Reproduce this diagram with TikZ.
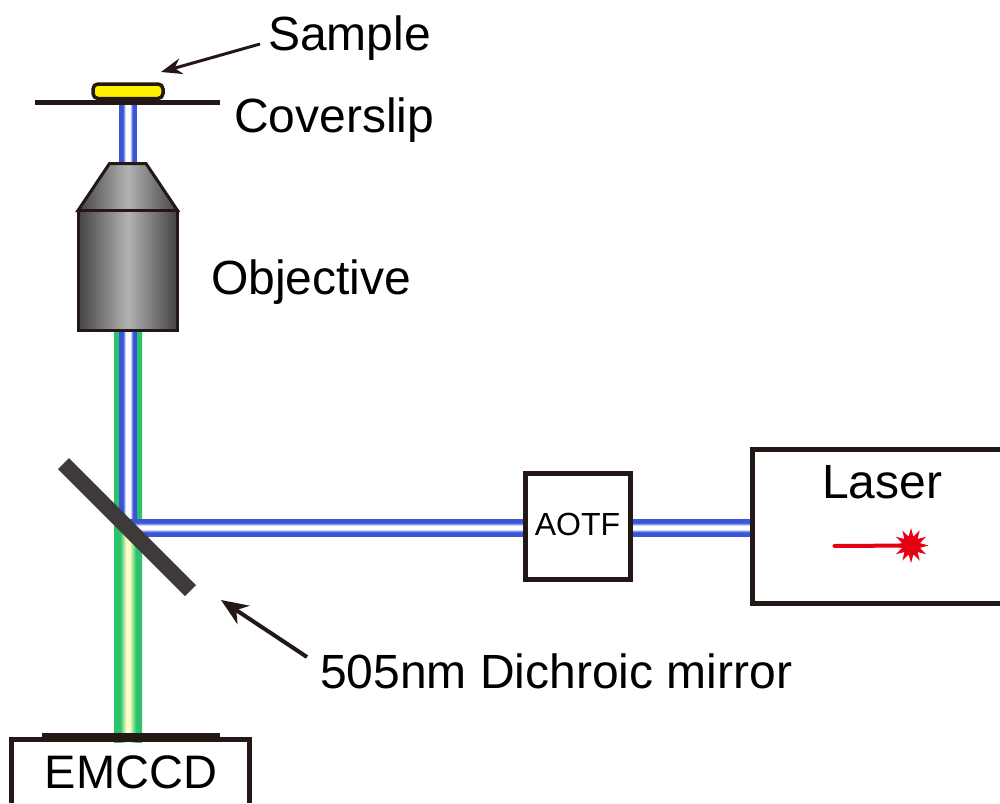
\documentclass[tikz,border=0pt]{standalone}
\usepackage{fontspec}
\setmainfont{Liberation Sans}
\usetikzlibrary{arrows.meta,shapes.geometric}
\definecolor{ink}{HTML}{231815}
\definecolor{mirrorgray}{HTML}{3E3A39}
\definecolor{bblue}{HTML}{3A55D8}
\definecolor{bgreen}{HTML}{2DC36A}
\definecolor{pale}{HTML}{FFFFC8}
\definecolor{laserred}{HTML}{E60012}
\definecolor{sampley}{HTML}{FFF000}
\pgfdeclarehorizontalshading{bluev}{100bp}{color(0bp)=(bblue);color(25bp)=(bblue);color(36bp)=(bblue);color(44bp)=(white);color(56bp)=(white);color(64bp)=(bblue);color(75bp)=(bblue);color(100bp)=(bblue)}
\pgfdeclareverticalshading{blueh}{100bp}{color(0bp)=(bblue);color(25bp)=(bblue);color(36bp)=(bblue);color(45bp)=(white);color(55bp)=(white);color(64bp)=(bblue);color(75bp)=(bblue);color(100bp)=(bblue)}
\pgfdeclarehorizontalshading{greenv}{100bp}{color(0bp)=(bgreen);color(25bp)=(bgreen);color(36bp)=(bgreen);color(47bp)=(pale);color(53bp)=(pale);color(64bp)=(bgreen);color(75bp)=(bgreen);color(100bp)=(bgreen)}
\pgfdeclarehorizontalshading{objshade}{100bp}{color(0bp)=(black!74);color(25bp)=(black!74);color(50bp)=(black!30);color(75bp)=(black!74);color(100bp)=(black!74)}
\tikzset{
  x=1pt,y=-1pt,
  label46/.style={inner sep=0pt,anchor=base west,font=\fontsize{48}{48}\selectfont,text=black},
  smalllabel/.style={inner sep=0pt,anchor=base,font=\fontsize{32}{32}\selectfont,text=black},
  framebox/.style={draw=ink,line width=5pt,fill=white},
  objpart/.style={draw=ink,line width=3pt,shading=objshade},
  bluebeamv/.style={shading=bluev},
  bluebeamh/.style={shading=blueh},
  greenbeam/.style={shading=greenv},
  pointer/.style={draw=ink,line width=3pt,-{Stealth[length=21pt,width=16pt]}},
  darkbar/.style={fill=ink},
}
\begin{document}
\begin{tikzpicture}
\useasboundingbox (0,0) rectangle (1000,803);
% EMCCD frame
\draw[draw=ink,line width=5pt] (11.7,803) -- (11.7,739.5) -- (249.5,739.5) -- (249.5,803);
% beams
\fill[greenbeam] (114,331) rectangle (142,742);
\fill[bluebeamv] (119,331) rectangle (137,527);
\fill[bluebeamv] (119,105) rectangle (136.5,163);
\fill[bluebeamh] (130,519) rectangle (750,536);
% detector bar
\fill[darkbar] (42,733) rectangle (220,742);
\node[label46,font=\fontsize{47}{47}\selectfont] (emccd) at (44.5,788) {EMCCD};
% mirror
\fill[mirrorgray] (69,458) -- (196,585) -- (185,596) -- (58,469) -- cycle;
% coverslip and sample
\fill[darkbar] (35,100) rectangle (220,105);
\draw[draw=ink,line width=3.5pt,fill=sampley,rounded corners=5pt] (93,84) rectangle (163,98.5);
% objective
\draw[objpart] (109.5,163.5) -- (146,163.5) -- (177.5,210.5) -- (78,210.5) -- cycle;
\draw[objpart] (78,210.5) rectangle (177.5,330.5);
% AOTF and laser
\node[framebox,minimum width=105pt,minimum height=106pt,inner sep=0pt] (aotf) at (578,526.5) {};
\node[smalllabel] (aotflabel) at (577.5,535) {AOTF};
\draw[framebox,fill=none] (1003,449.5) -- (752.5,449.5) -- (752.5,603.5) -- (1003,603.5);
\node[label46] (laser) at (822,498) {Laser};
\node[star,star points=12,star point ratio=1.9,minimum size=35pt,inner sep=0pt,fill=laserred] (burst) at (911,545.5) {};
\coordinate (raystart) at (834.5,546);
\draw[laserred,line width=4pt,line cap=round] (raystart) -- (burst.center);
% labels
\node[label46] (sample) at (268,50) {Sample};
\node[label46] (coverslip) at (234,132) {Coverslip};
\node[label46] (objective) at (211,294) {Objective};
\node[label46] (dichroic) at (320,688) {505nm Dichroic mirror};
% pointers
\coordinate (sampletail) at (260,44);
\coordinate (samplehead) at (161,72);
\coordinate (mirrortail) at (307,657);
\coordinate (mirrorhead) at (221,600);
\draw[pointer] (sampletail) -- (samplehead);
\draw[pointer,line width=4pt,-{Stealth[length=27pt,width=22pt]}] (mirrortail) -- (mirrorhead);
\end{tikzpicture}
\end{document}
